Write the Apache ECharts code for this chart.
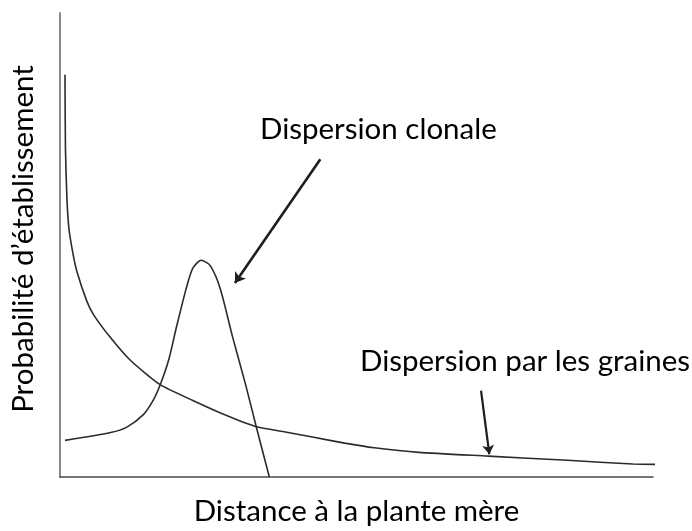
<!DOCTYPE html>
<html>
<head>
<meta charset="utf-8">
<title>Dispersion</title>
<script src="https://cdn.jsdelivr.net/npm/echarts@6/dist/echarts.min.js"></script>
<style>
  html, body { margin: 0; padding: 0; background: #fff; }
  #main { width: 692px; height: 531px; }
</style>
</head>
<body>
<div id="main"></div>
<script>
'use strict';

// courbes (x : distance, y : probabilité, échelle 0-100)
const seedX = [0.84, 0.92, 1.17, 1.51, 2.18, 2.85, 4.52, 5.7, 8.54, 11.9, 16.9, 22.4, 28.0, 33.0, 38.0, 43.0, 48.0, 53.0, 60.5, 72.2, 85.6, 96.6, 101.2];
const seedY = [86.7, 70.7, 60.0, 53.5, 48.2, 44.3, 37.9, 34.9, 30.0, 25.1, 19.9, 16.5, 13.3, 10.9, 9.7, 8.5, 7.3, 6.3, 5.3, 4.5, 3.6, 2.8, 2.7];

const clonalX = [0.84, 8.54, 11.2, 14.1, 15.7, 16.9, 18.3, 19.6, 21.3, 22.4, 23.8, 25.3, 27.0, 29.1, 31.3, 33.0, 35.3];
const clonalY = [7.9, 9.6, 10.7, 13.5, 16.5, 19.9, 25.1, 32.1, 40.7, 45.0, 46.7, 45.6, 40.7, 30.2, 19.9, 11.3, 0];

// flèches : [départ, arrivée]
const clonalArrow = [[43.9, 68.5], [29.5, 41.8]];
const seedArrow = [[71.0, 18.6], [72.4, 4.9]];

const xTitle = 'Distance à la plante mère';
const yTitle = 'Probabilité d\u2019établissement';
const clonalLabel = 'Dispersion clonale';
const seedLabel = 'Dispersion par les graines';

const zip = (xs, ys) => xs.map((x, i) => [x, ys[i]]);

const FONT = 'Lato';
const FS = 29.5;
const lineColor = '#2b2b2b';

const chart = echarts.init(document.getElementById('main'));

chart.setOption({
    backgroundColor: '#fff',
    animation: false,
    grid: {left: 56, right: 39, top: 13, bottom: 51},
    xAxis: {
        type: 'value',
        min: 0,
        max: 100,
        name: xTitle,
        nameLocation: 'middle',
        nameGap: 19,
        nameTextStyle: {fontFamily: FONT, fontSize: FS, color: '#000', verticalAlign: 'top'},
        axisLine: {lineStyle: {color: '#4a4a4a', width: 1.6}},
        axisTick: {show: false},
        axisLabel: {show: false},
        splitLine: {show: false}
    },
    yAxis: {
        type: 'value',
        min: 0,
        max: 100,
        name: yTitle,
        nameLocation: 'middle',
        nameGap: 22,
        nameTextStyle: {fontFamily: FONT, fontSize: FS, color: '#000', padding: [0, 0, 0, 12]},
        axisLine: {lineStyle: {color: '#8a8a8a', width: 2}},
        axisTick: {show: false},
        axisLabel: {show: false},
        splitLine: {show: false}
    },
    graphic: [
        {type: 'text', left: 260, top: 114, style: {text: clonalLabel, font: FS + 'px ' + FONT, fill: '#000'}},
        {type: 'text', left: 360, top: 346, style: {text: seedLabel, font: FS + 'px ' + FONT, fill: '#000'}}
    ],
    series: [
        {
            type: 'line',
            data: zip(seedX, seedY),
            smooth: 0.2,
            showSymbol: false,
            clip: false,
            lineStyle: {color: lineColor, width: 1.6}
        },
        {
            type: 'line',
            data: zip(clonalX, clonalY),
            smooth: 0.25,
            showSymbol: false,
            clip: false,
            lineStyle: {color: lineColor, width: 1.6}
        },
        {
            type: 'lines',
            coordinateSystem: 'cartesian2d',
            symbol: ['none', 'arrow'],
            symbolSize: 10,
            lineStyle: {color: '#1e1e1e', width: 2.6, opacity: 1},
            data: [{coords: clonalArrow}]
        },
        {
            type: 'lines',
            coordinateSystem: 'cartesian2d',
            symbol: ['none', 'arrow'],
            symbolSize: 9,
            lineStyle: {color: '#1e1e1e', width: 2.2, opacity: 1},
            data: [{coords: seedArrow}]
        }
    ]
});
</script>
</body>
</html>
